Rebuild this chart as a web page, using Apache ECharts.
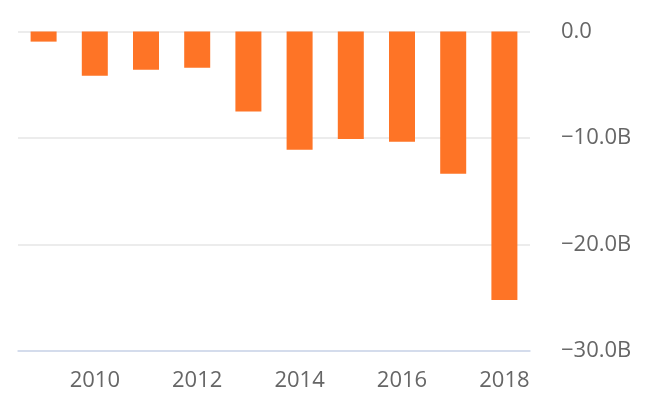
<!DOCTYPE html>
<html>
<head>
<meta charset="utf-8">
<script src="https://cdn.jsdelivr.net/npm/echarts@6/dist/echarts.min.js"></script>
<style>html,body{margin:0;padding:0;background:#fff}#c{width:654px;height:412px}</style>
</head>
<body>
<div id="c"></div>
<script>
const years = ['2009','2010','2011','2012','2013','2014','2015','2016','2017','2018'];
const values = [-0.95, -4.15, -3.6, -3.4, -7.5, -11.1, -10.1, -10.35, -13.35, -25.2];
const yMin = -30, yMax = 0, yStep = 10;

const chart = echarts.init(document.getElementById('c'));
chart.setOption({
  animation: false,
  grid: { left: 18, right: 124, top: 31.5, bottom: 61, containLabel: false },
  xAxis: {
    type: 'category',
    data: years,
    position: 'bottom',
    axisLine: { onZero: false, lineStyle: { color: '#ccd6eb', width: 1.5 } },
    axisTick: { show: false },
    axisLabel: {
      interval: (i) => i % 2 === 1,
      color: '#666666', fontSize: 22, fontFamily: 'Open Sans', margin: 19
    },
    splitLine: { show: false }
  },
  yAxis: {
    type: 'value',
    position: 'right',
    min: yMin, max: yMax, interval: yStep,
    axisLine: { show: false },
    axisTick: { show: false },
    splitLine: { lineStyle: { color: '#e6e6e6', width: 1.5 } },
    axisLabel: {
      color: '#666666', fontSize: 22, fontFamily: 'Open Sans', margin: 31,
      padding: [6, 0, 0, 0],
      formatter: (v) => v === 0 ? '0.0' : (v < 0 ? '\u2212' : '') + Math.abs(v).toFixed(1) + 'B'
    }
  },
  series: [{
    type: 'bar',
    data: values,
    barWidth: 26,
    itemStyle: { color: '#fe7426' }
  }]
});
</script>
</body>
</html>
